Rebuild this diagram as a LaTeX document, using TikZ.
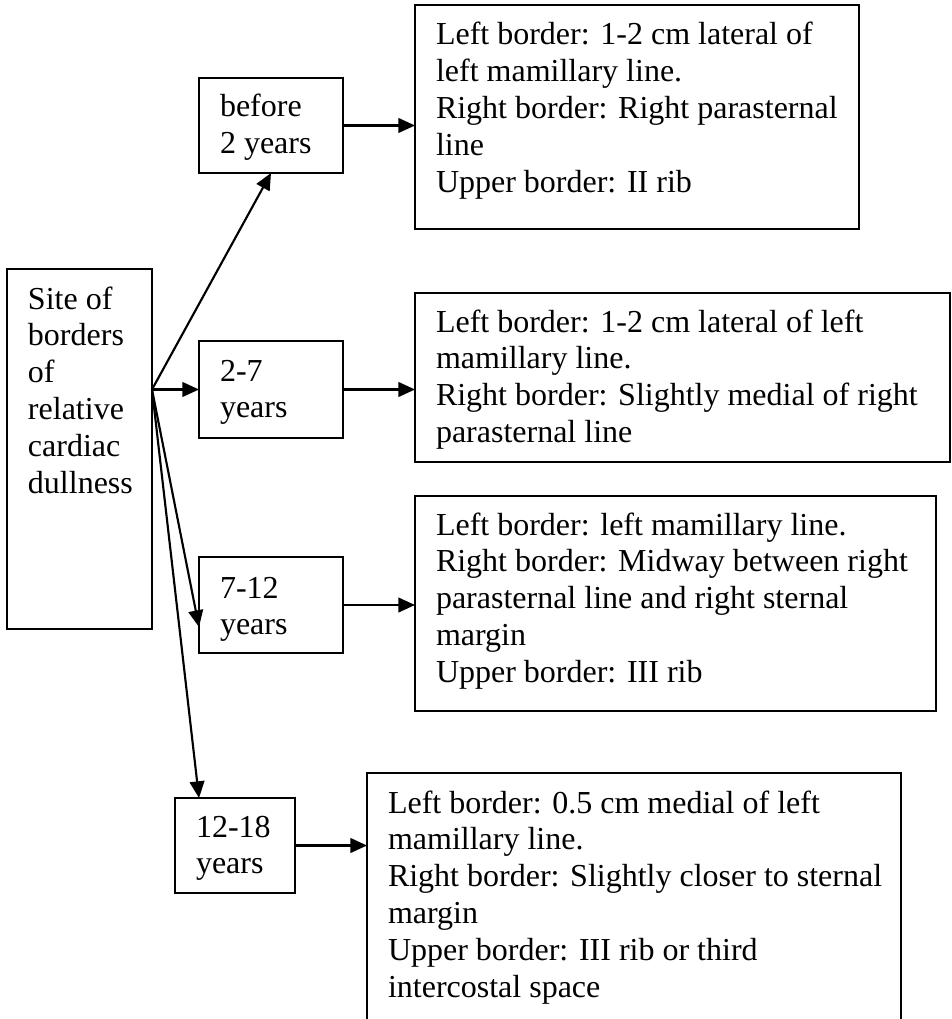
\documentclass[tikz,border=0pt]{standalone}
\usepackage{fontspec}
\setmainfont{Liberation Serif}
\usetikzlibrary{arrows.meta}
\newdimen\px \px=0.75pt
% width, height, first-baseline offset, text
\newcommand\boxtxt[4]{\parbox[c][#2\px][t]{#1\px}{\fontsize{24pt}{27.6pt}\selectfont\raggedright\leftskip=21\px\rule{0pt}{#3\px}#4}}
\tikzset{
  box/.style={draw=black, line width=1.2pt, inner sep=0pt, outer sep=0pt, anchor=north west},
  arr/.style={line width=1.6pt, -{Triangle[length=12.5pt,width=11pt]}}
}
\begin{document}
\begin{tikzpicture}[x=0.75pt,y=-0.75pt]
\clip (0,0) rectangle (951,1019);
\useasboundingbox (0,0) rectangle (951,1019);
\fill[white] (0,0) rectangle (951,1019);

\node[box] (src) at (7,269) {\boxtxt{145}{360}{40}{Site of\\borders\\of\\relative\\cardiac\\dullness}};

\node[box] (b1) at (199,78) {\boxtxt{144}{95}{39}{before\\2 years}};
\node[box] (b2) at (199,341) {\boxtxt{144}{97}{40}{2-7\\years}};
\node[box] (b3) at (199,557) {\boxtxt{144}{96}{41}{7-12\\years}};
\node[box] (b4) at (175,798) {\boxtxt{120}{95}{39}{12-18\\years}};

\node[box] (d1) at (415,5) {\boxtxt{444}{224}{40}{Left border: 1-2 cm lateral of\\left mamillary line.\\Right border: Right parasternal\\line\\Upper border: II rib}};
\node[box] (d2) at (415,293) {\boxtxt{535}{169}{39}{Left border: 1-2 cm lateral of left\\mamillary line.\\Right border: Slightly medial of right\\parasternal line}};
\node[box] (d3) at (415,496) {\boxtxt{521}{215}{39}{Left border: left mamillary line.\\Right border: Midway between right\\parasternal line and right sternal\\margin\\Upper border: III rib}};
\node[box] (d4) at (367,773) {\boxtxt{534}{262}{40}{Left border: 0.5 cm medial of left\\mamillary line.\\Right border: Slightly closer to sternal\\margin\\Upper border: III rib or third\\intercostal space}};

\coordinate (fan) at (src.east |- b2.west);
\draw[arr] (fan) -- (b1.south);
\draw[arr] (fan) -- (b2.west);
\draw[arr] (fan) -- ([yshift=-22\px]b3.west);
\draw[arr] (fan) -- ([xshift=24\px]b4.north west);

\draw[arr] (b1.east) -- (b1.east -| d1.west);
\draw[arr] (b2.east) -- (b2.east -| d2.west);
\draw[arr] (b3.east) -- (b3.east -| d3.west);
\draw[arr] (b4.east) -- (b4.east -| d4.west);
\end{tikzpicture}
\end{document}
